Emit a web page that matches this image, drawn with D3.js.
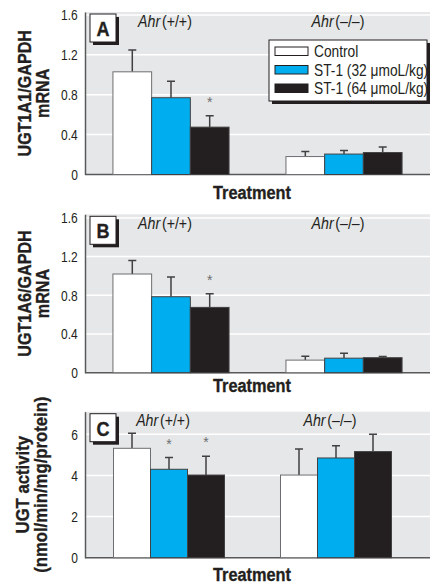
<!DOCTYPE html>
<html>
<head>
<meta charset="utf-8">
<script src="https://cdn.jsdelivr.net/npm/d3@7"></script>
<style>
body { margin: 0; background: #fff; }
svg { display: block; font-family: "Liberation Sans", Arial, sans-serif; }
</style>
</head>
<body>
<svg id="chart" width="432" height="586"></svg>
<script>
var genotypes = ["(+/+)", "(–/–)"],
    treatments = ["Control", "ST-1 (32 μmoL/kg)", "ST-1 (64 μmoL/kg)"],
    colors = ["#ffffff", "#00aeef", "#231f20"];

// means, SD and significance marks, one row per genotype
var ugt1a1Mean = [[1.03, 0.77, 0.475], [0.18, 0.205, 0.22]],
    ugt1a1Sd = [[0.22, 0.165, 0.115], [0.05, 0.035, 0.055]],
    ugt1a1Star = [[0, 0, 1], [0, 0, 0]];

var ugt1a6Mean = [[1.02, 0.785, 0.675], [0.13, 0.15, 0.155]],
    ugt1a6Sd = [[0.14, 0.205, 0.14], [0.04, 0.05, 0.012]],
    ugt1a6Star = [[0, 0, 1], [0, 0, 0]];

var activityMean = [[5.32, 4.30, 4.02], [4.02, 4.85, 5.16]],
    activitySd = [[0.73, 0.57, 0.91], [1.27, 0.60, 0.84]],
    activityStar = [[0, 1, 1], [0, 0, 0]];

var mrnaTicks = [0, 0.4, 0.8, 1.2, 1.6],
    activityTicks = [0, 2, 4, 6];

var svg = d3.select("#chart"),
    LEFT = 85,
    RIGHT = 430,
    SQ = 0.86,          // horizontal squeeze, the original uses a condensed face
    axisColor = "#58595b",
    ink = "#231f20";

function place(x, y, rot, sq) {
    return "translate(" + x + "," + y + ")" + (rot ? " rotate(" + rot + ")" : "") +
        " scale(" + (sq || SQ) + ",1)";
}

// heavy condensed titles
function heavy(t) {
    return t.attr("font-size", 19).attr("font-weight", "bold")
        .attr("fill", ink).attr("stroke", ink).attr("stroke-width", 0.35);
}

function drawPanel(p) {
    var g = svg.append("g");

    var y = d3.scaleLinear().domain([0, p.max]).range([p.bottom, p.top]);
    var x = d3.scalePoint().domain(genotypes).range(p.xRange).padding(p.pad);
    var xb = d3.scaleBand().domain(treatments)
        .range([-1.5 * p.barW, 1.5 * p.barW]);

    g.append("rect")
        .attr("x", LEFT).attr("y", p.top)
        .attr("width", RIGHT - LEFT).attr("height", p.bottom - p.top)
        .attr("fill", "#e6e7e8");

    g.selectAll(".grid")
        .data(p.ticks.filter(function (t) { return t > 0 && y(t) > p.top + 2; }))
        .enter().append("line")
        .attr("x1", LEFT).attr("x2", RIGHT)
        .attr("y1", function (d) { return y(d); })
        .attr("y2", function (d) { return y(d); })
        .attr("stroke", "#fff").attr("stroke-width", 1.5);

    var yAxis = d3.axisLeft(y).tickValues(p.ticks).tickSize(0).tickPadding(9)
        .tickFormat(p.fmt);
    var ya = g.append("g")
        .attr("transform", "translate(" + LEFT + ",0)")
        .call(yAxis);
    ya.select(".domain").attr("stroke", axisColor).attr("stroke-width", 1.5);
    ya.selectAll("text")
        .attr("font-family", null)
        .attr("font-size", 15)
        .attr("fill", ink)
        .attr("transform", "scale(0.8,1)");

    g.append("line")
        .attr("x1", LEFT).attr("x2", RIGHT)
        .attr("y1", y(0)).attr("y2", y(0))
        .attr("stroke", axisColor).attr("stroke-width", 1.5);

    // bars
    var rows = [];
    genotypes.forEach(function (gt, i) {
        treatments.forEach(function (t, j) {
            rows.push({ g: gt, t: t, j: j, mean: p.mean[i][j], sd: p.sd[i][j], star: p.star[i][j] });
        });
    });

    var bx = function (d) { return x(d.g) + xb(d.t); };

    g.selectAll(".err")
        .data(rows).enter().append("path")
        .attr("d", function (d) {
            var cx = bx(d) + xb.bandwidth() / 2, yt = y(d.mean + d.sd);
            return "M" + cx + "," + y(d.mean) + "V" + yt + "M" + (cx - 4) + "," + yt + "H" + (cx + 4);
        })
        .attr("stroke", "#414042").attr("stroke-width", 1.5).attr("fill", "none");

    g.selectAll(".bar")
        .data(rows).enter().append("rect")
        .attr("x", bx)
        .attr("y", function (d) { return y(d.mean); })
        .attr("width", xb.bandwidth())
        .attr("height", function (d) { return y(0) - y(d.mean); })
        .attr("fill", function (d) { return colors[d.j]; })
        .attr("stroke", function (d) { return d.j == 0 ? "#6d6e71" : "#414042"; })
        .attr("stroke-width", 1);

    g.selectAll(".star")
        .data(rows.filter(function (d) { return d.star; })).enter().append("text")
        .attr("x", function (d) { return bx(d) + xb.bandwidth() / 2; })
        .attr("y", function (d) { return y(d.mean + d.sd) - 9; })
        .attr("text-anchor", "middle")
        .attr("font-size", 14)
        .attr("fill", "#6d6e71")
        .text("*");

    // genotype headers
    genotypes.forEach(function (gt) {
        var t = g.append("text")
            .attr("transform", place(x(gt) - 6, p.top + 14.5))
            .attr("text-anchor", "middle")
            .attr("font-size", 16.5).attr("fill", ink);
        t.append("tspan").attr("font-style", "italic").text("Ahr");
        t.append("tspan").attr("dx", 2).text(gt);
    });

    // panel letter
    g.append("rect")
        .attr("x", 93).attr("y", p.top + 5).attr("width", 26).attr("height", 28)
        .attr("fill", ink);
    g.append("rect")
        .attr("x", 90).attr("y", p.top + 2).attr("width", 26).attr("height", 28)
        .attr("fill", "#fff").attr("stroke", ink).attr("stroke-width", 1);
    heavy(g.append("text")
        .attr("transform", place(103, p.top + 24))
        .attr("text-anchor", "middle"))
        .attr("font-size", 21)
        .text(p.letter);

    // axis titles
    var cy = (p.top + p.bottom) / 2;
    p.ytitle.forEach(function (s, i) {
        heavy(g.append("text")
            .attr("transform", place(p.ytitleX[i], cy, -90, p.ysq))
            .attr("text-anchor", "middle"))
            .text(s);
    });

    heavy(g.append("text")
        .attr("transform", place(252, p.xtitleY))
        .attr("text-anchor", "middle"))
        .text("Treatment");

    return g;
}

var panelA = drawPanel({
    letter: "A", top: 12, bottom: 174.5, max: 1.63, ticks: mrnaTicks,
    fmt: function (d) { return d == 0 ? "0" : d3.format(".1f")(d); },
    xRange: [LEFT, RIGHT], pad: 0.497, barW: 38.7,
    mean: ugt1a1Mean, sd: ugt1a1Sd, star: ugt1a1Star,
    ytitle: ["UGT1A1/GAPDH", "mRNA"], ytitleX: [31, 49], ysq: 0.85, xtitleY: 199
});

drawPanel({
    letter: "B", top: 214.3, bottom: 372.7, max: 1.637, ticks: mrnaTicks,
    fmt: function (d) { return d == 0 ? "0" : d3.format(".1f")(d); },
    xRange: [LEFT, RIGHT], pad: 0.497, barW: 38.7,
    mean: ugt1a6Mean, sd: ugt1a6Sd, star: ugt1a6Star,
    ytitle: ["UGT1A6/GAPDH", "mRNA"], ytitleX: [31, 49], ysq: 0.85, xtitleY: 392
});

drawPanel({
    letter: "C", top: 411.7, bottom: 557.7, max: 7.1, ticks: activityTicks,
    fmt: d3.format("d"),
    xRange: [LEFT, 420], pad: 0.503, barW: 37,
    mean: activityMean, sd: activitySd, star: activityStar,
    ytitle: ["UGT activity", "(nmol/min/mg/protein)"], ytitleX: [29, 47], ysq: 0.88, xtitleY: 581
});

// legend (panel A)
var legend = panelA.append("g").attr("transform", "translate(269,40)");
legend.append("rect")
    .attr("x", 3).attr("y", 3).attr("width", 158).attr("height", 61)
    .attr("fill", ink);
legend.append("rect")
    .attr("width", 158).attr("height", 61)
    .attr("fill", "#fff").attr("stroke", ink).attr("stroke-width", 1);
var items = legend.selectAll(".item")
    .data(treatments).enter().append("g")
    .attr("transform", function (d, i) { return "translate(6," + (7 + i * 18.5) + ")"; });
items.append("rect")
    .attr("width", 33).attr("height", 8.5)
    .attr("fill", function (d, i) { return colors[i]; })
    .attr("stroke", ink).attr("stroke-width", 1);
items.append("text")
    .attr("transform", place(39, 10))
    .attr("font-size", 16).attr("fill", ink)
    .text(function (d) { return d; });
</script>
</body>
</html>
